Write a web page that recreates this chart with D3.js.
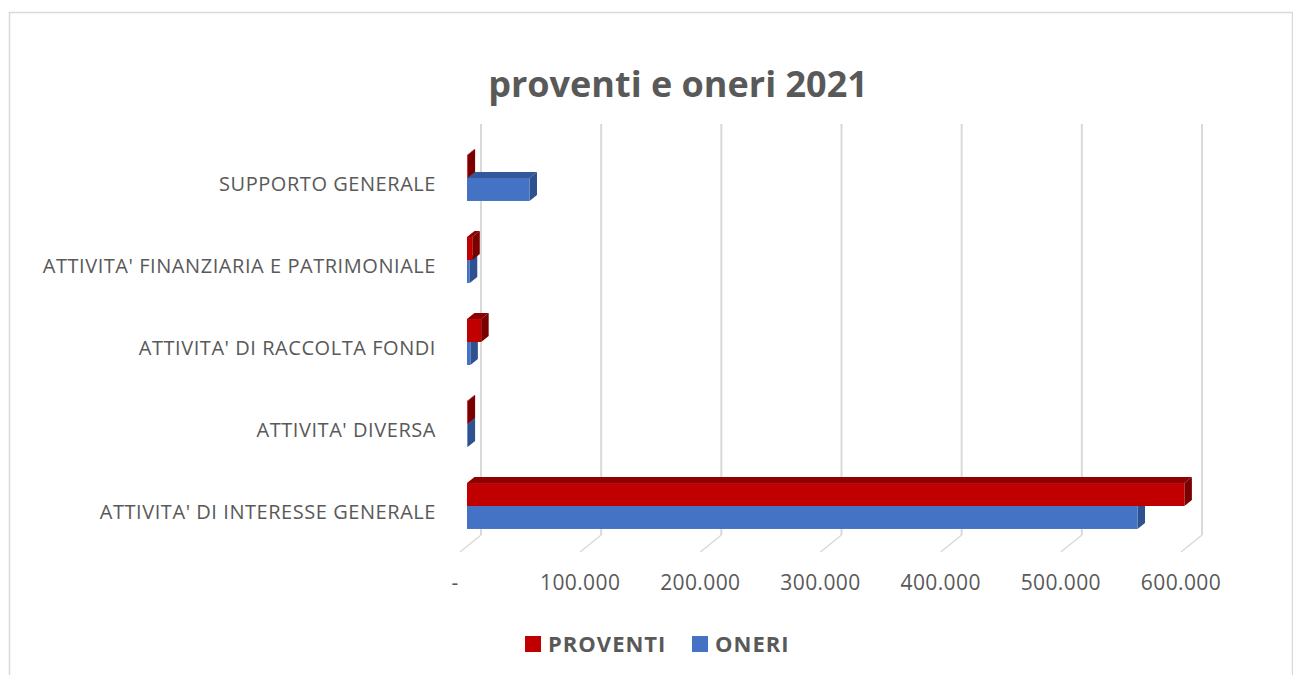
<!DOCTYPE html>
<html>
<head>
<meta charset="utf-8">
<script src="https://cdn.jsdelivr.net/npm/d3@7"></script>
<style>
  html, body { margin: 0; padding: 0; background: #fff; }
  svg { display: block; }
  text { font-family: "Open Sans", sans-serif; fill: #595959; }
</style>
</head>
<body>
<div class="chart-area"></div>
<script>
const width = 1293
const height = 675

// data
const categories = [
  "SUPPORTO GENERALE",
  "ATTIVITA' FINANZIARIA E PATRIMONIALE",
  "ATTIVITA' DI RACCOLTA FONDI",
  "ATTIVITA' DIVERSA",
  "ATTIVITA' DI INTERESSE GENERALE",
]
const seriesNames = ["PROVENTI", "ONERI"]
const proventi = [500, 4400, 11800, 500, 597000]
const oneri = [52000, 2300, 2800, 500, 558000]
const tickValues = [0, 100000, 200000, 300000, 400000, 500000, 600000]

const COLORS = {
  PROVENTI: { front: "#c00000", top: "#8f0000", side: "#7a0000" },
  ONERI: { front: "#4472c4", top: "#34589a", side: "#2f5190" },
}

// oblique 3d offsets
const wall = { dx: 21, dy: -17 }
const barOffset = { dx: 7, dy: -6 }
const barDepth = { dx: 7.5, dy: -6 }
const floorY = 552
const wallTop = 124

const fmt = v => v === 0 ? "-" : d3.format(",")(v).replace(/,/g, ".")

const svg = d3.select("div.chart-area")
  .append("svg")
  .attr("width", width)
  .attr("height", height)

// chart border
svg.append("rect")
  .attr("x", 9.5).attr("y", 12.5)
  .attr("width", 1283).attr("height", 700)
  .attr("fill", "none")
  .attr("stroke", "#d9d9d9")
  .attr("stroke-width", 1.5)

svg.append("text")
  .attr("x", 678)
  .attr("y", 97)
  .attr("text-anchor", "middle")
  .style("font-size", "36px")
  .style("font-weight", "bold")
  .text("proventi e oneri 2021")

const x = d3.scaleLinear()
  .domain([0, 600000])
  .range([460, 1181])

const y = d3.scaleBand()
  .domain(categories)
  .range([143, 553])
  .paddingInner(0.44)
  .paddingOuter(0.22)

const ySub = d3.scaleBand()
  .domain(seriesNames)
  .range([0, y.bandwidth()])

// back wall gridlines
svg.append("g")
  .selectAll("line")
  .data(tickValues)
  .join("line")
  .attr("x1", d => x(d) + wall.dx)
  .attr("x2", d => x(d) + wall.dx)
  .attr("y1", wallTop)
  .attr("y2", floorY + wall.dy)
  .attr("stroke", "#d9d9d9")
  .attr("stroke-width", 2)

// floor lines
svg.append("g")
  .selectAll("line")
  .data(tickValues)
  .join("line")
  .attr("x1", d => x(d))
  .attr("y1", floorY)
  .attr("x2", d => x(d) + wall.dx)
  .attr("y2", floorY + wall.dy)
  .attr("stroke", "#d9d9d9")
  .attr("stroke-width", 1.5)

// value axis labels
svg.append("g")
  .selectAll("text")
  .data(tickValues)
  .join("text")
  .attr("x", d => x(d) - (d === 0 ? 5 : 0))
  .attr("y", 590)
  .attr("text-anchor", "middle")
  .style("font-size", "21px")
  .style("letter-spacing", "0.4px")
  .text(fmt)

// category labels
svg.append("g")
  .selectAll("text")
  .data(categories)
  .join("text")
  .attr("x", 436)
  .attr("y", d => y(d) + y.bandwidth() / 2)
  .attr("dy", "0.35em")
  .attr("text-anchor", "end")
  .style("font-size", "20px")
  .style("letter-spacing", "0.55px")
  .text(d => d)

// bars, blue drawn first so red covers the shared face
const bars = []
categories.forEach((c, i) => {
  bars.push({ cat: c, s: "ONERI", v: oneri[i] })
  bars.push({ cat: c, s: "PROVENTI", v: proventi[i] })
})

const barG = svg.append("g")
  .selectAll("g")
  .data(bars)
  .join("g")

function face(d) {
  const x0 = x(0) + barOffset.dx
  const x1 = x(d.v) + barOffset.dx
  const y0 = y(d.cat) + ySub(d.s) + barOffset.dy
  const y1 = y0 + ySub.bandwidth()
  return { x0, x1, y0, y1 }
}

const pts = p => p.map(q => q.join(",")).join(" ")

barG.append("polygon")
  .attr("points", d => {
    const f = face(d)
    return pts([[f.x0, f.y0], [f.x1, f.y0], [f.x1 + barDepth.dx, f.y0 + barDepth.dy], [f.x0 + barDepth.dx, f.y0 + barDepth.dy]])
  })
  .attr("fill", d => COLORS[d.s].top)

barG.append("polygon")
  .attr("points", d => {
    const f = face(d)
    return pts([[f.x1, f.y0], [f.x1 + barDepth.dx, f.y0 + barDepth.dy], [f.x1 + barDepth.dx, f.y1 + barDepth.dy], [f.x1, f.y1]])
  })
  .attr("fill", d => COLORS[d.s].side)

barG.append("rect")
  .attr("x", d => face(d).x0)
  .attr("y", d => face(d).y0)
  .attr("width", d => face(d).x1 - face(d).x0)
  .attr("height", ySub.bandwidth())
  .attr("fill", d => COLORS[d.s].front)

// legend
const legend = svg.append("g")
  .selectAll("g")
  .data(seriesNames)
  .join("g")
  .attr("transform", (d, i) => `translate(${[525, 692][i]},636)`)

legend.append("rect")
  .attr("width", 16)
  .attr("height", 16)
  .attr("fill", d => COLORS[d].front)

legend.append("text")
  .attr("x", 23)
  .attr("y", 8)
  .attr("dy", "0.35em")
  .style("font-size", "22px")
  .style("font-weight", "bold")
  .style("letter-spacing", "1px")
  .text(d => d)
</script>
</body>
</html>
